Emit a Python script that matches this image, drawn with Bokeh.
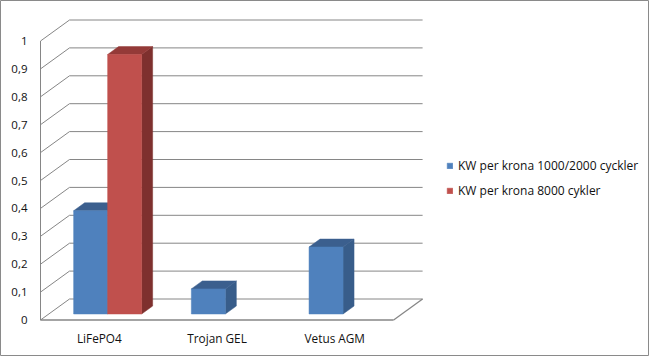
from bokeh.plotting import figure
from bokeh.models import Range1d, Legend, LegendItem
from bokeh.core.properties import value
from bokeh.embed import file_html
from bokeh.resources import INLINE

# ---- data ----
categories = ["LiFePO4", "Trojan GEL", "Vetus AGM"]
series_names = ["KW per krona 1000/2000 cyckler", "KW per krona 8000 cykler"]
series_1000_2000 = [0.37, 0.09, 0.24]
series_8000 = [0.93, 0.0, 0.0]
tick_values = [0, 0.1, 0.2, 0.3, 0.4, 0.5, 0.6, 0.7, 0.8, 0.9, 1.0]
tick_labels = ["0", "0,1", "0,2", "0,3", "0,4", "0,5", "0,6", "0,7", "0,8", "0,9", "1"]

# ---- geometry / style ----
W, H = 649, 356
X0, CW = 40.0, 117.7      # px of front-left corner, px per category
Y0, YU = 319.5, 279.0     # px of front floor, px per value unit
DX = 29.0 / CW            # full depth offset in x units
DY = 21.0 / YU            # full depth offset in y units
D0, D1 = 0.286, 0.665     # bar depth (front/back fraction)
BW = 34.0 / CW            # bar width in category units
FONT = "Open Sans"
GRID = "#868686"
TXT = "#111111"

series = [series_1000_2000, series_8000]
front_cols = ["#4F81BD", "#C0504D"]
side_cols = ["#385D8A", "#7E302E"]
top_cols = ["#3B5F8E", "#943A38"]

p = figure(width=W, height=H, output_backend="svg", toolbar_location=None,
           x_range=Range1d(-X0 / CW, (W - X0) / CW),
           y_range=Range1d((Y0 - H) / YU, Y0 / YU),
           x_axis_location=None, y_axis_location=None,
           min_border=0, tools="")
p.grid.visible = False
p.background_fill_color = "white"
p.border_fill_color = "white"
p.outline_line_color = "#8a8a8a"
p.outline_line_width = 1

ncat = len(categories)

# back wall gridlines
p.segment(x0=[DX] * len(tick_values), y0=[v + DY for v in tick_values],
          x1=[ncat + DX] * len(tick_values), y1=[v + DY for v in tick_values],
          line_color=GRID, line_width=1)
# side wall gridlines
p.segment(x0=[0] * len(tick_values), y0=tick_values,
          x1=[DX] * len(tick_values), y1=[v + DY for v in tick_values],
          line_color=GRID, line_width=1)
# front vertical edge
p.segment(x0=[0], y0=[0], x1=[0], y1=[max(tick_values)], line_color=GRID, line_width=1)
# floor front and right edges
p.segment(x0=[0, ncat], y0=[0, 0], x1=[ncat, ncat + DX], y1=[0, DY],
          line_color=GRID, line_width=1.3)

# bars
fronts = []
for s, vals in enumerate(series):
    lefts, rights, tops, bottoms = [], [], [], []
    side_xs, side_ys, top_xs, top_ys = [], [], [], []
    for i, v in enumerate(vals):
        if v <= 0:
            continue
        c = i + 0.5
        L = c - BW + s * BW
        R = L + BW
        fx, fy = D0 * DX, D0 * DY
        bx, by = D1 * DX, D1 * DY
        lefts.append(L + fx); rights.append(R + fx)
        bottoms.append(fy); tops.append(v + fy)
        side_xs.append([R + fx, R + bx, R + bx, R + fx])
        side_ys.append([fy, by, v + by, v + fy])
        top_xs.append([L + fx, R + fx, R + bx, L + bx])
        top_ys.append([v + fy, v + fy, v + by, v + by])
    p.patches(side_xs, side_ys, fill_color=side_cols[s], line_color=side_cols[s], line_width=0.5)
    p.patches(top_xs, top_ys, fill_color=top_cols[s], line_color=top_cols[s], line_width=0.5)
    r = p.quad(left=lefts, right=rights, bottom=bottoms, top=tops,
               fill_color=front_cols[s], line_color=front_cols[s], line_width=0.5)
    fronts.append(r)

# tick labels
p.text(x=[-13.0 / CW] * len(tick_values), y=tick_values, text=tick_labels,
       text_align="right", text_baseline="middle", text_font=value(FONT),
       text_font_size="11.5px", text_color=TXT)

# category labels
p.text(x=[i + 0.5 for i in range(ncat)], y=[-17.5 / YU] * ncat, text=categories,
       text_align="center", text_baseline="middle", text_font=value(FONT),
       text_font_size="11.8px", text_color=TXT)

legend = Legend(items=[LegendItem(label=series_names[k], renderers=[fronts[k]]) for k in range(2)],
                location=(446, 156), glyph_width=7, glyph_height=7, label_standoff=5,
                spacing=5, padding=0, margin=0, label_height=20,
                label_text_font=FONT, label_text_font_size="12px",
                label_text_color=TXT, border_line_color=None,
                background_fill_alpha=0)
p.add_layout(legend, "center")

open("out.html", "w").write(file_html(p, INLINE))
